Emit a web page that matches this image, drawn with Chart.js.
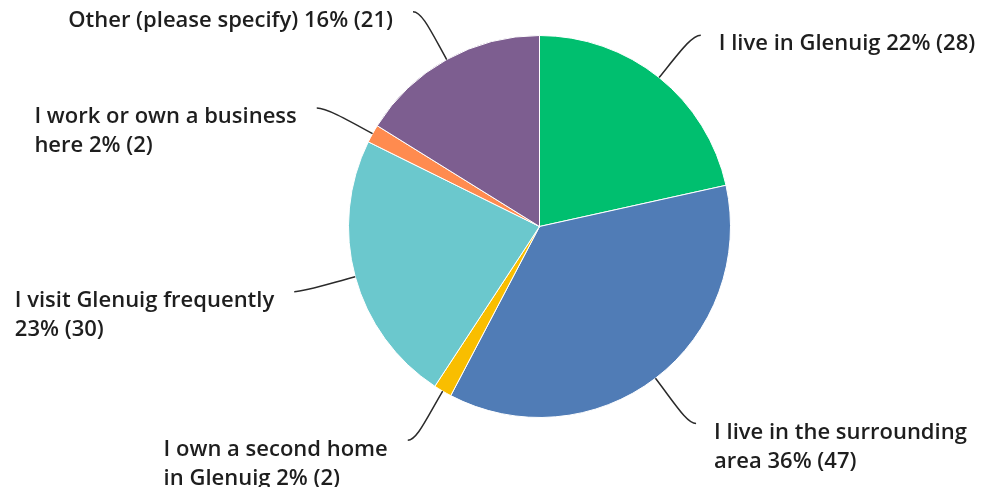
<!DOCTYPE html>
<html>
<head>
<meta charset="utf-8">
<script src="https://cdn.jsdelivr.net/npm/chart.js@4"></script>
<style>
  html, body { margin: 0; padding: 0; background: #ffffff; }
  #wrap { width: 985px; height: 487px; position: relative; }
</style>
</head>
<body>
<div id="wrap"><canvas id="c"></canvas></div>
<script>
// ---- Data ----
const categories = [
  "I live in Glenuig",
  "I live in the surrounding\narea",
  "I own a second home\nin Glenuig",
  "I visit Glenuig frequently\n",
  "I work or own a business\nhere",
  "Other (please specify)"
];
const responses = [28, 47, 2, 30, 2, 21];
const sliceColors = ["#00BF6F", "#507CB6", "#F9BE00", "#6BC8CD", "#FF8B4F", "#7D5E90"];

// ---- Label style ----
const labelFont = '600 22px "Open Sans"';
const labelColor = "#1e1e1e";
const leaderColor = "#2a2a2a";
const leaderLength = 57;
const lineHeight = 29;

const total = responses.reduce((a, b) => a + b, 0);

function labelLinesFor(i) {
  const pct = Math.round(responses[i] / total * 100);
  const suffix = pct + "% (" + responses[i] + ")";
  const parts = categories[i].split("\n");
  const last = parts.length - 1;
  parts[last] = (parts[last] ? parts[last] + " " : "") + suffix;
  return parts;
}

const calloutPlugin = {
  id: "callouts",
  afterDatasetsDraw(chart) {
    const ctx = chart.ctx;
    const meta = chart.getDatasetMeta(0);
    ctx.save();
    ctx.font = labelFont;
    meta.data.forEach((arc, i) => {
      const p = arc.getProps(["x", "y", "startAngle", "endAngle", "outerRadius"], true);
      const mid = (p.startAngle + p.endAngle) / 2;
      const R = p.outerRadius;
      const cx = Math.cos(mid), sy = Math.sin(mid);
      const side = cx >= 0 ? 1 : -1;
      const p0 = { x: p.x + cx * R, y: p.y + sy * R };
      const p1 = { x: p.x + cx * (R + 33), y: p.y + sy * (R + 33) };
      const p3 = { x: p.x + cx * (R + leaderLength) + side * 6, y: p.y + sy * (R + leaderLength) + (sy < 0 ? 2 : 0) };
      const p2 = { x: p3.x - side * 9, y: p3.y };
      ctx.beginPath();
      ctx.moveTo(p0.x, p0.y);
      ctx.bezierCurveTo(p1.x, p1.y, p2.x, p2.y, p3.x, p3.y);
      ctx.strokeStyle = leaderColor;
      ctx.lineWidth = 1.5;
      ctx.stroke();

      const lines = labelLinesFor(i);
      const widths = lines.map(l => ctx.measureText(l).width);
      const blockW = Math.max(...widths);
      const x0 = side > 0 ? p3.x + 18 : p3.x - 20 - blockW;
      ctx.fillStyle = labelColor;
      ctx.textAlign = "left";
      ctx.textBaseline = "middle";
      lines.forEach((l, k) => {
        ctx.fillText(l, x0, p3.y + 9 + k * lineHeight);
      });
    });
    ctx.restore();
  }
};

new Chart(document.getElementById("c"), {
  type: "pie",
  data: {
    labels: categories.map(c => c.replace("\n", " ").trim()),
    datasets: [{
      data: responses,
      backgroundColor: sliceColors,
      borderColor: "#ffffff",
      borderWidth: 1,
      hoverOffset: 0
    }]
  },
  options: {
    responsive: true,
    maintainAspectRatio: false,
    animation: false,
    events: [],
    layout: { padding: { left: 348, right: 254, top: 35, bottom: 69 } },
    plugins: {
      legend: { display: false },
      tooltip: { enabled: false }
    }
  },
  plugins: [calloutPlugin]
});
</script>
</body>
</html>
